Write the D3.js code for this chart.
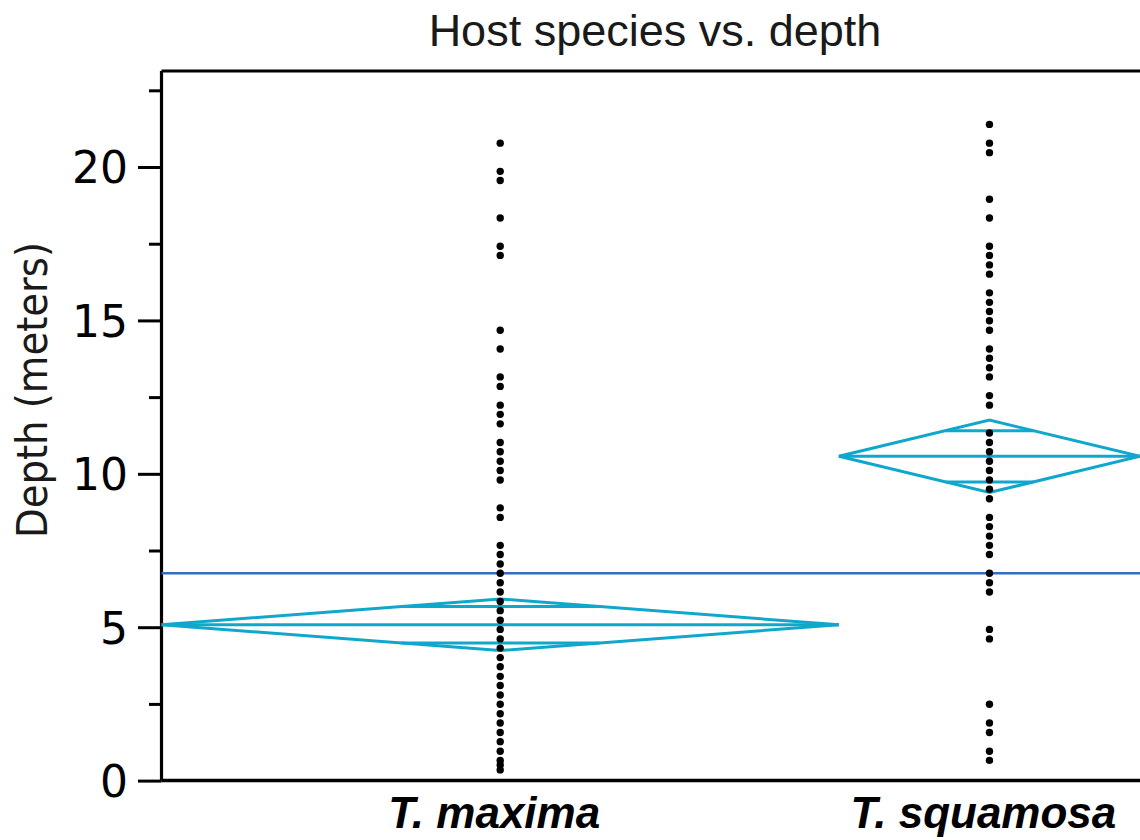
<!DOCTYPE html>
<html>
<head>
<meta charset="utf-8">
<script src="https://cdn.jsdelivr.net/npm/d3@7"></script>
<style>
  body { margin: 0; background: #fff; }
</style>
</head>
<body>
<div id="chart"></div>
<script>
// Data (depths in meters)
const categories = ["T. maxima", "T. squamosa"];
const groupN = [99, 44]; // drives band widths (JMP-style, proportional to n)

const maximaDepths = [20.73, 19.81, 19.51, 18.29, 17.37, 17.07, 14.63, 14.02, 13.11, 12.80,
    12.19, 11.89, 11.58, 10.97, 10.67, 10.36, 10.06, 9.75, 8.84, 8.53,
    7.62, 7.32, 7.01, 6.71, 6.40, 6.10, 5.79, 5.49, 5.18, 4.88,
    4.57, 4.27, 3.96, 3.66, 3.35, 3.05, 2.74, 2.44, 2.13, 1.83,
    1.52, 1.22, 0.91, 0.61, 0.46, 0.30];

const squamosaDepths = [21.34, 20.73, 20.42, 18.90, 18.29, 17.37, 17.07, 16.76, 16.46, 15.85,
    15.54, 15.24, 14.94, 14.63, 14.02, 13.72, 13.41, 13.11, 12.50, 12.19,
    11.28, 10.97, 10.67, 10.36, 10.06, 9.75, 9.45, 9.14, 8.53, 8.23,
    7.92, 7.62, 7.32, 6.71, 6.40, 6.10, 4.88, 4.57, 2.44, 1.83,
    1.52, 0.91, 0.61];

const groupMeans = [5.08, 10.57];
const groupCI = [0.84, 1.18];   // half width of the 95% interval
const grandMean = 6.76;

const majorTicks = [0, 5, 10, 15, 20];
const minorTicks = [2.5, 7.5, 12.5, 17.5, 22.5];

// Set up chart dimensions and margins
const W = 1140, H = 840;
const margin = { top: 71, right: 0, bottom: 59.4, left: 161.5 };
const width = W - margin.left - margin.right;
const height = H - margin.top - margin.bottom;

const cyan = "#0fa8cc";
const blue = "#356dc0";

const root = d3.select("#chart")
    .append("svg")
    .attr("width", W)
    .attr("height", H);

const svg = root.append("g")
    .attr("transform", `translate(${margin.left},${margin.top})`);

// Scales
const y = d3.scaleLinear()
    .domain([0, 23.13])
    .range([height, 0]);

const cum = [0, groupN[0], groupN[0] + groupN[1]];
const x = d3.scaleLinear()
    .domain([0, d3.sum(groupN)])
    .range([0, width]);

const groups = categories.map((c, i) => ({
    name: c,
    x0: x(cum[i]),
    x1: x(cum[i + 1]),
    xc: (x(cum[i]) + x(cum[i + 1])) / 2,
    mean: groupMeans[i],
    ci: groupCI[i],
    depths: i === 0 ? maximaDepths : squamosaDepths
}));

// Frame: top and bottom lines
svg.append("line")
    .attr("x1", 0).attr("x2", width + 10)
    .attr("y1", 0).attr("y2", 0)
    .attr("stroke", "#000").attr("stroke-width", 3);

svg.append("line")
    .attr("x1", 0).attr("x2", width + 10)
    .attr("y1", height).attr("y2", height)
    .attr("stroke", "#000").attr("stroke-width", 3.5);

// Minor ticks
const minorAxis = svg.append("g")
    .call(d3.axisLeft(y).tickValues(minorTicks).tickSize(12.5).tickFormat(""));
minorAxis.select(".domain").remove();
minorAxis.selectAll("line").attr("stroke-width", 3);

// Major ticks + labels
const yAxis = svg.append("g")
    .call(d3.axisLeft(y).tickValues(majorTicks).tickSize(23.5).tickPadding(10));
yAxis.select(".domain")
    .attr("d", `M0,0V${height}`)
    .attr("stroke-width", 3.2);
yAxis.selectAll("line").attr("stroke-width", 3);
yAxis.selectAll("text")
    .attr("dy", "0.36em")
    .style("font-family", "'DejaVu Sans', sans-serif")
    .style("font-size", "44px")
    .attr("fill", "#000");

// Grand mean line
svg.append("line")
    .attr("x1", 0).attr("x2", width + 10)
    .attr("y1", y(grandMean)).attr("y2", y(grandMean))
    .attr("stroke", blue).attr("stroke-width", 2.6);

// Means diamonds
const k = 1 / Math.SQRT2;
groups.forEach(g => {
    const dg = svg.append("g")
        .attr("fill", "none")
        .attr("stroke", cyan)
        .attr("stroke-width", 3);

    dg.append("path")
        .attr("d", `M${g.x0},${y(g.mean)}L${g.xc},${y(g.mean + g.ci)}L${g.x1},${y(g.mean)}L${g.xc},${y(g.mean - g.ci)}Z`)
        .attr("stroke-linejoin", "miter");

    dg.append("line")
        .attr("x1", g.x0).attr("x2", g.x1)
        .attr("y1", y(g.mean)).attr("y2", y(g.mean));

    // overlap marks
    const hw = (g.x1 - g.x0) / 2 * (1 - k);
    [1, -1].forEach(s => {
        dg.append("line")
            .attr("x1", g.xc - hw).attr("x2", g.xc + hw)
            .attr("y1", y(g.mean + s * g.ci * k)).attr("y2", y(g.mean + s * g.ci * k));
    });
});

// Points
groups.forEach(g => {
    svg.append("g")
        .selectAll("circle")
        .data(g.depths)
        .enter().append("circle")
        .attr("cx", g.xc)
        .attr("cy", d => y(d) - 1.5)
        .attr("r", 3.7)
        .attr("fill", "#000");
});

// Category labels
svg.append("g")
    .selectAll("text")
    .data(groups)
    .enter().append("text")
    .attr("x", d => d.xc - 6)
    .attr("y", height + 47.5)
    .attr("text-anchor", "middle")
    .style("font-family", "'Liberation Sans', Arial, sans-serif")
    .style("font-size", "44px")
    .style("font-weight", "bold")
    .style("font-style", "italic")
    .text(d => d.name);

// Title
root.append("text")
    .attr("x", 655)
    .attr("y", 46)
    .attr("text-anchor", "middle")
    .style("font-family", "'Liberation Sans', Arial, sans-serif")
    .style("font-size", "45px")
    .attr("fill", "#1a1a1a")
    .text("Host species vs. depth");

// Y axis title
root.append("text")
    .attr("transform", "translate(47,390) rotate(-90)")
    .attr("text-anchor", "middle")
    .attr("textLength", 296)
    .attr("lengthAdjust", "spacingAndGlyphs")
    .style("font-family", "'DejaVu Sans', sans-serif")
    .style("font-size", "43px")
    .attr("fill", "#1a1a1a")
    .text("Depth (meters)");
</script>
</body>
</html>
